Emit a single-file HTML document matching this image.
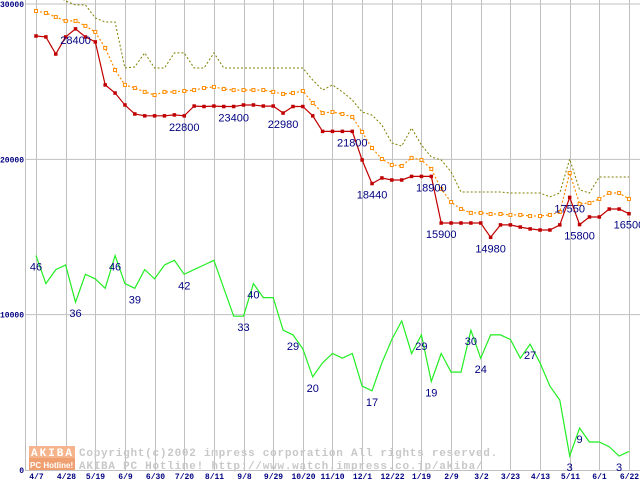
<!DOCTYPE html>
<html><head><meta charset="utf-8"><style>
html,body{margin:0;padding:0;background:#fff;}
svg{display:block;}
.tk{font-family:"Liberation Mono",monospace;font-size:8px;font-weight:bold;fill:#000080;}
.lb{font-family:"Liberation Sans",sans-serif;font-size:11px;fill:#000080;}
.wm{font-family:"Liberation Mono",monospace;font-size:11px;font-weight:bold;fill:#c8c8c8;letter-spacing:0.75px;}
</style></head><body>
<svg id="chart" width="640" height="480" viewBox="0 0 640 480" xmlns="http://www.w3.org/2000/svg">
<g id="grid"></g>
<g id="wm">
 <rect x="29" y="446" width="46" height="12" fill="#f5b48c"/>
 <rect x="29" y="458" width="46" height="12" fill="#f0a070"/>
 <text x="31" y="456" font-family="Liberation Mono, monospace" font-size="11" font-weight="bold" fill="#fff" letter-spacing="2">AKIBA</text>
 <text x="30" y="468" font-family="Liberation Sans, sans-serif" font-size="8" font-weight="bold" fill="#fff">PC Hotline!</text>
 <text class="wm" x="79" y="456">Copyright(c)2002 impress corporation All rights reserved.</text>
 <text class="wm" x="79" y="469">AKIBA PC Hotline!  http://www.watch.impress.co.jp/akiba/</text>
</g>
<g id="series"></g>
<g id="labels"></g>
</svg>
<script>
const xLabels = ["4/7","4/28","5/19","6/9","6/30","7/20","8/11","9/8","9/29","10/20","11/10","12/1","12/22","1/19","2/9","3/2","3/23","4/13","5/11","6/1","6/22"];
const yTicks = [0,10000,20000,30000];
const minPrice = [27940,27880,26780,27880,28400,27880,27560,24790,24270,23500,22920,22800,22800,22800,22860,22800,23430,23400,23430,23400,23400,23500,23500,23430,23430,22980,23400,23400,22800,21800,21800,21800,21800,19960,18440,18800,18670,18670,18900,18900,18900,15900,15900,15900,15900,15900,14980,15780,15780,15640,15520,15450,15450,15780,17550,15800,16290,16290,16800,16800,16500];
const avgPrice = [29550,29420,29160,28910,28910,28590,28200,27170,25750,24790,24590,24340,24140,24340,24340,24400,24460,24590,24660,24530,24460,24460,24460,24460,24340,24210,24270,24400,23630,22980,23050,22920,22730,21760,20730,20020,19640,19570,20090,19960,19380,18090,17250,16800,16550,16550,16480,16480,16420,16420,16350,16350,16420,16610,19120,17130,17190,17450,17830,17830,17450];
const maxPrice = [30580,30580,30580,30190,29940,29940,29100,28840,28840,25880,25950,26850,25880,25880,26850,26850,25880,25880,26850,25880,25880,25880,25880,25880,25880,25880,25880,25880,25110,24460,24790,24340,23820,23050,22850,22210,21050,20860,22020,20920,20150,19960,19190,17900,17900,17900,17900,17900,17830,17830,17830,17830,17580,17830,20020,18030,17830,18860,18860,18860,18860];
const shopCount = [46,40,43,44,36,42,41,39,46,40,39,43,41,44,45,42,43,44,45,39,33,33,40,37,37,30,29,26,20,23,25,24,25,18,17,23,28,32,25,29,19,25,21,21,30,24,29,29,28,24,27,23,18,15,3,9,6,6,5,3,4];
const priceLabelIdx = [4,15,20,25,32,34,40,41,46,54,55,60];
const countLabelIdx = [0,4,8,10,15,21,22,26,28,34,39,40,44,45,50,54,55,59];

const NS="http://www.w3.org/2000/svg";
const X0=36, DX=9.883;
function xs(i){return X0+DX*i;}
function ys(v){return 470-v*(466/30000);}
function yc(c){return ys(c*300);}
function mk(tag,attrs,parent){const e=document.createElementNS(NS,tag);for(const k in attrs)e.setAttribute(k,attrs[k]);parent.appendChild(e);return e;}
const grid=document.getElementById('grid'), series=document.getElementById('series'), labels=document.getElementById('labels');

yTicks.forEach(function(t){
  const y=ys(t);
  if(t>0){const l=mk('line',{x1:25,x2:640,y1:y,y2:y,stroke:'#c0c0c0','stroke-width':1},grid);
  
  }
  const tx=mk('text',{x:24,y:y+3,'text-anchor':'end','class':'tk'},grid);
  tx.textContent=String(t);
  
  
});
const ax=mk('line',{x1:25.5,x2:25.5,y1:0,y2:470,stroke:'#c0c0c0','stroke-width':1},grid);


const bx=mk('line',{x1:25,x2:640,y1:470.5,y2:470.5,stroke:'#c0c0c0','stroke-width':1},grid);


xLabels.forEach(function(lab,k){
  const x=Math.round(xs(k*3))+0.5;
  const l=mk('line',{x1:x,x2:x,y1:0,y2:470,stroke:'#c0c0c0','stroke-width':1},grid);
  
  
  const tx=mk('text',{x:x,y:479,'text-anchor':'middle','class':'tk'},grid);
  tx.textContent=lab;
  
  
});

function pts(arr,f){return arr.map(function(v,i){return xs(i).toFixed(1)+','+f(v).toFixed(1);}).join(' ');}
const gl=mk('polyline',{points:pts(shopCount,yc),fill:'none',stroke:'#22ee22','stroke-width':1.2},series);


const ol=mk('polyline',{points:pts(maxPrice,ys),fill:'none',stroke:'#808000','stroke-width':1,'stroke-dasharray':'2,2'},series);


const al=mk('polyline',{points:pts(avgPrice,ys),fill:'none',stroke:'#ff8c00','stroke-width':1.2,'stroke-dasharray':'2,2'},series);


avgPrice.forEach(function(v,i){
  const r=mk('rect',{x:xs(i)-1.5,y:ys(v)-1.5,width:3,height:3,fill:'#fff',stroke:'#ff8c00','stroke-width':1},series);
  
  
});
const rl=mk('polyline',{points:pts(minPrice,ys),fill:'none',stroke:'#c00000','stroke-width':1.2},series);


minPrice.forEach(function(v,i){
  const r=mk('rect',{x:xs(i)-1.75,y:ys(v)-1.75,width:3.5,height:3.5,fill:'#c00000'},series);
  
  
});
priceLabelIdx.forEach(function(i){
  const t=mk('text',{x:xs(i),y:ys(minPrice[i])+15,'text-anchor':'middle','class':'lb'},labels);
  t.textContent=String(minPrice[i]);
  
  
});
countLabelIdx.forEach(function(i){
  const t=mk('text',{x:xs(i),y:yc(shopCount[i])+15,'text-anchor':'middle','class':'lb'},labels);
  t.textContent=String(shopCount[i]);
  
  
});
</script>
</body></html>
